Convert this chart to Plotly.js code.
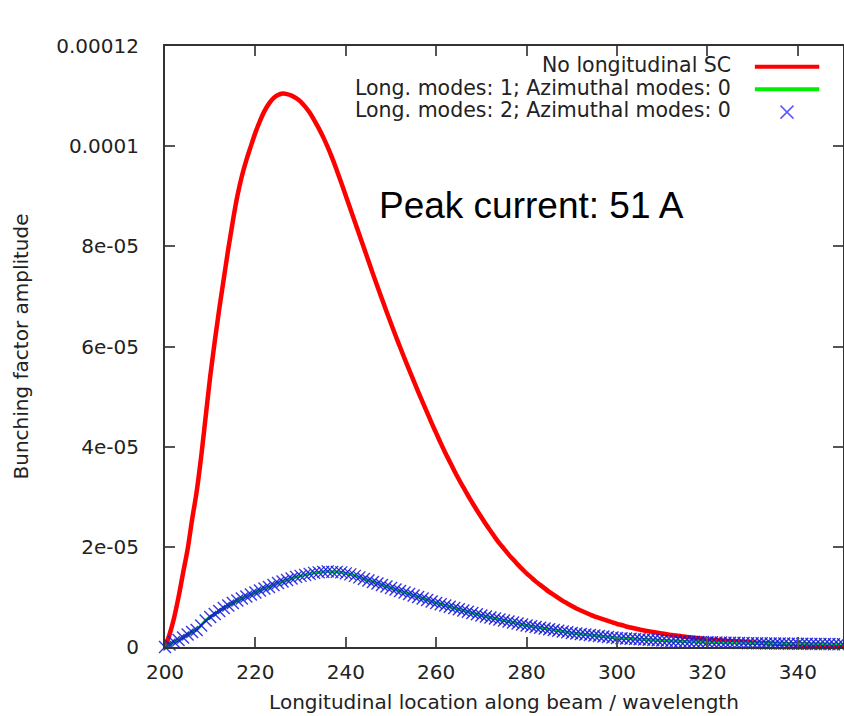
<!DOCTYPE html>
<html>
<head>
<meta charset="utf-8">
<script src="https://cdn.plot.ly/plotly-3.0.1.min.js"></script>
<style>html,body{margin:0;padding:0;background:#fff;}#chart{width:844px;height:716px;}</style>
</head>
<body>
<div id="chart"></div>
<script>
// Longitudinal location along beam (wavelengths)
var xLoc = [
200,201,202,203,204,205,206,207,208,209,
210,211,212,213,214,215,216,217,218,219,
220,221,222,223,224,225,226,227,228,229,
230,231,232,233,234,235,236,237,238,239,
240,241,242,243,244,245,246,247,248,249,
250,251,252,253,254,255,256,257,258,259,
260,261,262,263,264,265,266,267,268,269,
270,271,272,273,274,275,276,277,278,279,
280,281,282,283,284,285,286,287,288,289,
290,291,292,293,294,295,296,297,298,299,
300,301,302,303,304,305,306,307,308,309,
310,311,312,313,314,315,316,317,318,319,
320,321,322,323,324,325,326,327,328,329,
330,331,332,333,334,335,336,337,338,339,
340,341,342,343,344,345,346,347,348,349,350];

// No longitudinal SC
var noSC = [
0,2.5e-6,5.8e-6,1.0e-5,1.48e-5,1.95e-5,2.55e-5,3.1e-5,3.8e-5,4.6e-5,
5.4e-5,6.1e-5,6.75e-5,7.35e-5,7.95e-5,8.5e-5,9.0e-5,9.4e-5,9.72e-5,1.0e-4,
1.027e-4,1.05e-4,1.07e-4,1.085e-4,1.096e-4,1.102e-4,1.105e-4,1.104e-4,1.101e-4,1.096e-4,
1.089e-4,1.079e-4,1.067e-4,1.052e-4,1.036e-4,1.018e-4,9.98e-5,9.76e-5,9.52e-5,9.27e-5,
9.01e-5,8.75e-5,8.49e-5,8.23e-5,7.97e-5,7.71e-5,7.45e-5,7.2e-5,6.95e-5,6.7e-5,
6.46e-5,6.22e-5,5.99e-5,5.76e-5,5.54e-5,5.32e-5,5.1e-5,4.89e-5,4.68e-5,4.47e-5,
4.27e-5,4.07e-5,3.88e-5,3.7e-5,3.52e-5,3.35e-5,3.19e-5,3.03e-5,2.88e-5,2.73e-5,
2.59e-5,2.45e-5,2.32e-5,2.19e-5,2.07e-5,1.96e-5,1.85e-5,1.75e-5,1.65e-5,1.56e-5,
1.47e-5,1.39e-5,1.31e-5,1.24e-5,1.17e-5,1.1e-5,1.04e-5,9.8e-6,9.2e-6,8.7e-6,
8.2e-6,7.7e-6,7.3e-6,6.9e-6,6.5e-6,6.1e-6,5.8e-6,5.5e-6,5.2e-6,4.9e-6,
4.6e-6,4.4e-6,4.1e-6,3.9e-6,3.7e-6,3.5e-6,3.3e-6,3.15e-6,3.0e-6,2.85e-6,
2.7e-6,2.55e-6,2.42e-6,2.3e-6,2.18e-6,2.06e-6,1.95e-6,1.85e-6,1.75e-6,1.65e-6,
1.56e-6,1.48e-6,1.4e-6,1.32e-6,1.25e-6,1.18e-6,1.12e-6,1.06e-6,1.0e-6,9.4e-7,
8.9e-7,8.4e-7,7.9e-7,7.5e-7,7.1e-7,6.7e-7,6.3e-7,6.0e-7,5.6e-7,5.3e-7,
5.0e-7,4.7e-7,4.5e-7,4.2e-7,4.0e-7,3.8e-7,3.6e-7,3.4e-7,3.2e-7,3.0e-7,2.9e-7];

// Long. modes: 1; Azimuthal modes: 0
var modes1 = [
0,5e-7,1.0e-6,1.4e-6,1.9e-6,2.5e-6,3.0e-6,3.4e-6,4.3e-6,5.3e-6,
6.0e-6,6.6e-6,7.2e-6,7.8e-6,8.3e-6,8.8e-6,9.3e-6,9.7e-6,1.01e-5,1.05e-5,
1.09e-5,1.13e-5,1.17e-5,1.2e-5,1.24e-5,1.28e-5,1.31e-5,1.34e-5,1.37e-5,1.4e-5,
1.42e-5,1.44e-5,1.46e-5,1.48e-5,1.49e-5,1.5e-5,1.51e-5,1.5e-5,1.5e-5,1.49e-5,
1.47e-5,1.45e-5,1.42e-5,1.39e-5,1.36e-5,1.33e-5,1.3e-5,1.27e-5,1.24e-5,1.21e-5,
1.18e-5,1.15e-5,1.12e-5,1.09e-5,1.06e-5,1.03e-5,1.0e-5,9.7e-6,9.4e-6,9.1e-6,
8.8e-6,8.55e-6,8.3e-6,8.05e-6,7.8e-6,7.55e-6,7.3e-6,7.05e-6,6.8e-6,6.55e-6,
6.3e-6,6.1e-6,5.9e-6,5.7e-6,5.5e-6,5.3e-6,5.1e-6,4.9e-6,4.7e-6,4.5e-6,
4.3e-6,4.15e-6,4.0e-6,3.85e-6,3.7e-6,3.55e-6,3.4e-6,3.25e-6,3.1e-6,2.95e-6,
2.8e-6,2.7e-6,2.6e-6,2.5e-6,2.4e-6,2.3e-6,2.2e-6,2.1e-6,2.0e-6,1.9e-6,
1.8e-6,1.75e-6,1.7e-6,1.65e-6,1.6e-6,1.55e-6,1.5e-6,1.45e-6,1.4e-6,1.35e-6,
1.3e-6,1.26e-6,1.22e-6,1.18e-6,1.14e-6,1.1e-6,1.07e-6,1.04e-6,1.01e-6,9.8e-7,
9.5e-7,9.3e-7,9.1e-7,8.9e-7,8.7e-7,8.5e-7,8.3e-7,8.1e-7,7.9e-7,7.7e-7,
7.5e-7,7.4e-7,7.3e-7,7.2e-7,7.1e-7,7.0e-7,6.9e-7,6.8e-7,6.7e-7,6.6e-7,
6.5e-7,6.4e-7,6.3e-7,6.2e-7,6.1e-7,6.0e-7,5.9e-7,5.8e-7,5.7e-7,5.6e-7,5.5e-7];

// Long. modes: 2; Azimuthal modes: 0 (coincides with modes 1 curve)
var modes2 = modes1.slice();

var seriesNames = ["No longitudinal SC", "Long. modes: 1; Azimuthal modes: 0", "Long. modes: 2; Azimuthal modes: 0"];
var xTickVals = [200, 220, 240, 260, 280, 300, 320, 340];
var xTickText = ["200", "220", "240", "260", "280", "300", "320", "340"];
var yTickVals = [0, 2e-5, 4e-5, 6e-5, 8e-5, 1e-4, 1.2e-4];
var yTickText = ["0", "2e-05", "4e-05", "6e-05", "8e-05", "0.0001", "0.00012"];

var FONT = "DejaVu Sans, sans-serif";
var TXT = "#222222";

var traces = [
  {x: xLoc, y: noSC, name: seriesNames[0], mode: "lines", type: "scatter",
   line: {color: "#ff0000", width: 4.5, shape: "spline", smoothing: 1}, showlegend: false, hoverinfo: "skip"},
  {x: xLoc, y: modes1, name: seriesNames[1], mode: "lines", type: "scatter",
   line: {color: "#00ee00", width: 3, shape: "spline", smoothing: 1}, showlegend: false, hoverinfo: "skip"},
  {x: xLoc, y: modes2, name: seriesNames[2], mode: "markers", type: "scatter",
   cliponaxis: false,
   marker: {symbol: "x-thin-open", size: 12, color: "rgba(20,20,220,0.85)",
            line: {color: "rgba(20,20,220,0.85)", width: 1.4}},
   showlegend: false, hoverinfo: "skip"}
];

var axisCommon = {
  showgrid: false, zeroline: false, showline: true, linecolor: "#333333", linewidth: 2,
  mirror: "ticks", ticks: "inside", ticklen: 10, tickwidth: 2, tickcolor: "#555555",
  tickfont: {family: FONT, size: 20, color: TXT}
};

var layout = {
  width: 844, height: 716,
  margin: {l: 165, r: 1, t: 46, b: 69},
  paper_bgcolor: "#ffffff", plot_bgcolor: "#ffffff",
  showlegend: false,
  xaxis: Object.assign({}, axisCommon, {
    range: [200, 350], tickmode: "array", tickvals: xTickVals, ticktext: xTickText,
    ticklabelstandoff: 6,
    title: {text: "Longitudinal location along beam / wavelength", font: {family: FONT, size: 20, color: TXT}, standoff: 12}
  }),
  yaxis: Object.assign({}, axisCommon, {
    range: [0, 1.2e-4], tickmode: "array", tickvals: yTickVals, ticktext: yTickText,
    ticklabelstandoff: 20,
    title: {text: "Bunching factor amplitude", font: {family: FONT, size: 20, color: TXT}, standoff: 22}
  }),
  annotations: [
    {xref: "paper", yref: "paper", x: 0.540, y: 0.7354, xanchor: "center", yanchor: "middle",
     text: "Peak current: 51 A", showarrow: false,
     font: {family: "Liberation Sans, Arial, sans-serif", size: 37, color: "#000000"}},
    {xref: "paper", yref: "paper", x: 0.8378, y: 0.9684, xanchor: "right", yanchor: "middle",
     text: seriesNames[0], showarrow: false, font: {family: FONT, size: 20.5, color: TXT}},
    {xref: "paper", yref: "paper", x: 0.8378, y: 0.930, xanchor: "right", yanchor: "middle",
     text: seriesNames[1], showarrow: false, font: {family: FONT, size: 20.5, color: TXT}},
    {xref: "paper", yref: "paper", x: 0.8378, y: 0.8935, xanchor: "right", yanchor: "middle",
     text: seriesNames[2], showarrow: false, font: {family: FONT, size: 20.5, color: TXT}}
  ],
  shapes: [
    {type: "line", xref: "paper", yref: "paper", x0: 0.870, x1: 0.965, y0: 0.9656, y1: 0.9656,
     line: {color: "#ff0000", width: 4}},
    {type: "line", xref: "paper", yref: "paper", x0: 0.870, x1: 0.965, y0: 0.928, y1: 0.928,
     line: {color: "#00ee00", width: 4}},
    {type: "path", xref: "paper", yref: "paper",
     path: "M 0.9078 0.8792 L 0.9270 0.9008 M 0.9078 0.9008 L 0.9270 0.8792",
     line: {color: "rgba(60,60,255,0.85)", width: 1.5}}
  ]
};

Plotly.newPlot("chart", traces, layout, {staticPlot: true, displayModeBar: false});
</script>
</body>
</html>
